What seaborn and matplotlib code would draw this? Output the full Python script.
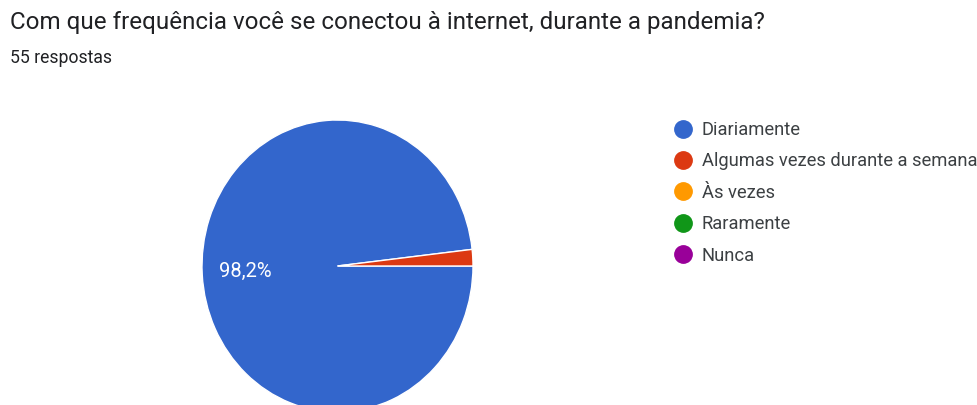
import matplotlib
matplotlib.use("Agg")
import matplotlib.pyplot as plt
from matplotlib.lines import Line2D
import seaborn as sns
import math

# ---- data ----
categories = ["Diariamente", "Algumas vezes durante a semana", "Às vezes", "Raramente", "Nunca"]
counts = [54, 1, 0, 0, 0]
pct_labels = ["98,2%", "", "", "", ""]
title = "Com que frequência você se conectou à internet, durante a pandemia?"
subtitle = "55 respostas"
colors = ["#3366cc", "#dc3912", "#ff9900", "#109618", "#990099"]

sns.set_theme(style="white")
plt.rcParams["font.family"] = ["Roboto", "DejaVu Sans"]

W, H = 977, 405
fig = plt.figure(figsize=(W / 100, H / 100), dpi=100)
fig.patch.set_facecolor("white")

# pie axes (elliptical like the reference)
cx, cy = 337.5, 266.0
rx, ry = 135.5, 146.0
ax = fig.add_axes([(cx - rx) / W, (H - cy - ry) / H, 2 * rx / W, 2 * ry / H])
palette = sns.color_palette(colors)
nz = [i for i, c in enumerate(counts) if c > 0]
wedges, texts = ax.pie([counts[i] for i in nz], colors=[palette[i] for i in nz],
                       startangle=0, counterclock=False,
                       wedgeprops=dict(edgecolor="white", linewidth=1.0))
ax.set_aspect("auto")
ax.set_xlim(-1, 1)
ax.set_ylim(-1, 1)
ax.axis("off")
# percentage label
tot = sum(counts)
ang0 = 0.0
for i in nz:
    frac = counts[i] / tot
    mid = ang0 - frac * 360 / 2
    ang0 -= frac * 360
    if pct_labels[i]:
        ax.text(0.68 * math.cos(math.radians(mid)), 0.68 * math.sin(math.radians(mid)),
                pct_labels[i], color="white", fontsize=14.5, ha="center", va="center")

fig.text(10 / W, 1 - 22 / H, title, fontsize=17.4, color="#202124", ha="left", va="center")
fig.text(10 / W, 1 - 58 / H, subtitle, fontsize=12.7, color="#202124", ha="left", va="center")

handles = [Line2D([], [], marker="o", linestyle="", markersize=12.5,
                  markerfacecolor=palette[i], markeredgecolor=palette[i]) for i in range(len(categories))]
fig.legend(handles, categories, loc="upper left", bbox_to_anchor=(674 / W, 1 - 121 / H),
           frameon=False, fontsize=13.2, borderpad=0, borderaxespad=0, handlelength=1.0,
           handletextpad=0.5, labelspacing=0.73, labelcolor="#3c4043")

fig.savefig("out.png", dpi=100, facecolor="white")
